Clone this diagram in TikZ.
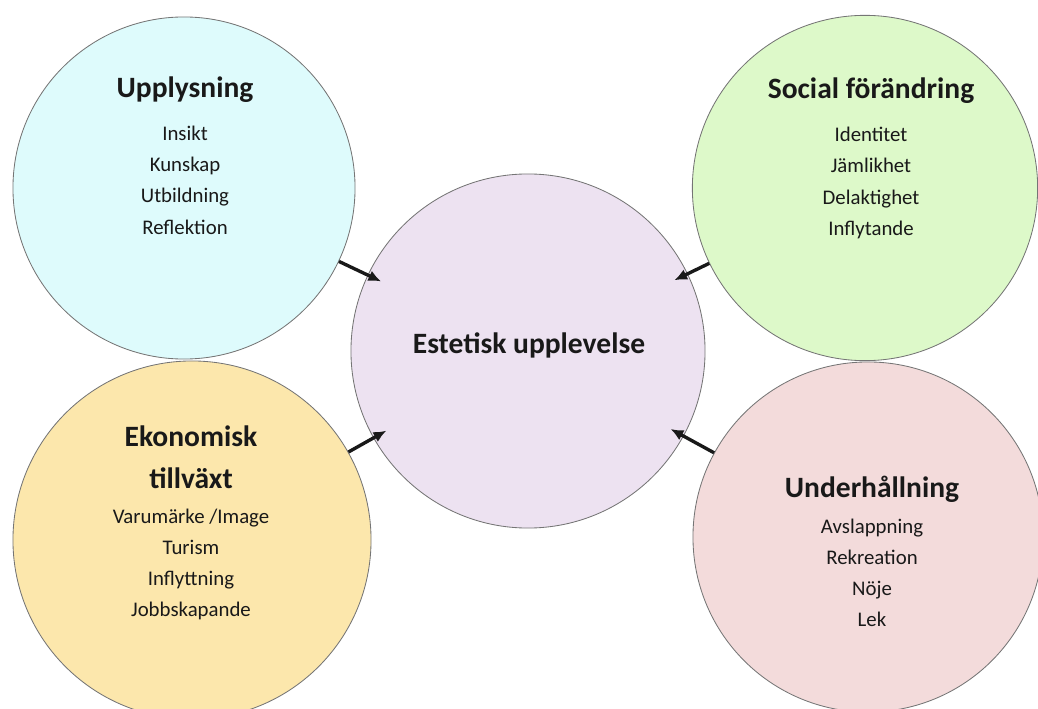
\documentclass[tikz,border=0pt]{standalone}
\usepackage{fontspec}
\setmainfont{Carlito}
\usetikzlibrary{arrows.meta}
\definecolor{sky}{RGB}{222,251,252}
\definecolor{mint}{RGB}{221,249,201}
\definecolor{sand}{RGB}{252,231,172}
\definecolor{rose}{RGB}{243,219,219}
\definecolor{lilac}{RGB}{237,226,241}
\definecolor{ink}{RGB}{25,25,25}
\tikzset{
  >={Latex[length=3.2mm,width=2.8mm]},
  bubble/.style={circle,draw=ink!60,fill=#1,line width=0.6pt,inner sep=0pt},
  bubble/.default=lilac,
  headline/.style={font=\fontsize{21}{25}\selectfont\bfseries,text=ink,anchor=base,inner sep=0pt},
  entry/.style={font=\fontsize{14.8}{18}\selectfont,text=ink,anchor=base,inner sep=0pt},
  feed/.style={->,line width=2.4pt,draw=ink,shorten >=-0.375cm},
}

\begin{document}
\begin{tikzpicture}[x=0.025cm,y=-0.025cm]
  \useasboundingbox (0,0) rectangle (1038,709);
  % circles
  \node[bubble=sky,minimum size=8.55cm] (upp) at (184,188) {};
  \node[bubble=mint,minimum size=8.63cm] (soc) at (865,188) {};
  \node[bubble=sand,minimum size=8.95cm] (eko) at (192,540) {};
  \node[bubble=rose,minimum size=8.75cm] (und) at (868,537) {};
  \node[bubble=lilac,minimum size=8.85cm] (est) at (528,351) {};
  % texts
  \node[headline] (uppT) at (185,98) {Upplysning};
  \foreach \t [count=\i from 0] in {Insikt,Kunskap,Utbildning,Reflektion}
    \node[entry] (upp-\i) at (185,{141+31*\i}) {\t};
  \node[headline] (socT) at (871,99) {Social förändring};
  \foreach \t [count=\i from 0] in {Identitet,Jämlikhet,Delaktighet,Inflytande}
    \node[entry] (soc-\i) at (871,{142+31*\i}) {\t};
  \node[headline] (ekoT) at (191,446) {Ekonomisk};
  \node[headline] (ekoU) at (191,488) {tillväxt};
  \foreach \t [count=\i from 0] in {Varumärke /Image,Turism,Inflyttning,Jobbskapande}
    \node[entry] (eko-\i) at (191,{523+31*\i}) {\t};
  \node[headline] (undT) at (872,497) {Underhållning};
  \foreach \t [count=\i from 0] in {Avslappning,Rekreation,Nöje,Lek}
    \node[entry] (und-\i) at (872,{533+31*\i}) {\t};
  \node[headline] (estT) at (529,353) {Estetisk upplevelse};
  % arrows
  \draw[feed] (upp) -- (est);
  \draw[feed] (soc) -- (est);
  \draw[feed] (eko) -- (est);
  \draw[feed] (und) -- (est);
\end{tikzpicture}
\end{document}
